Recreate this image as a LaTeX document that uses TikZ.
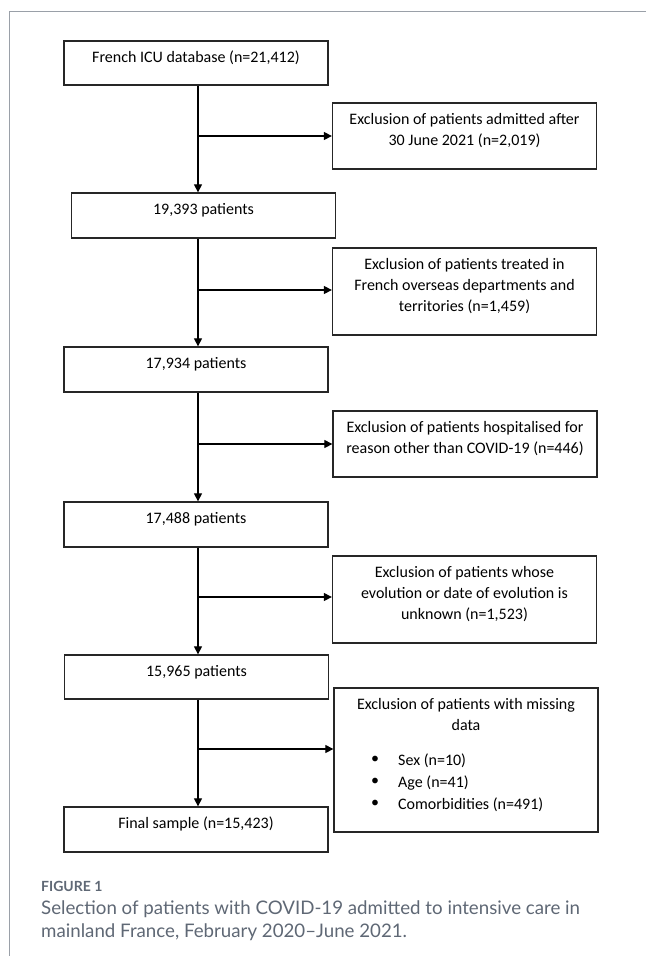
\documentclass[tikz,border=0pt]{standalone}
\usepackage{fontspec}
\setmainfont{Carlito}
\newfontfamily\capfont{Lato}
\usetikzlibrary{arrows.meta}
\definecolor{framegray}{HTML}{9AA0A8}
\definecolor{capgray}{HTML}{5F6875}
\begin{document}
\begin{tikzpicture}[x=1pt,y=-1pt,
  box/.style={draw=black!85, line width=1.3pt, minimum width=264pt, inner sep=0pt},
  txt/.style={font=\fontsize{16}{21}\selectfont, align=center, inner sep=0pt, anchor=north},
  itemtxt/.style={font=\fontsize{16}{21}\selectfont, inner sep=0pt, anchor=base west},
  bul/.style={font=\fontsize{16}{21}\selectfont, inner sep=0pt},
  arr/.style={line width=1.2pt, -{Triangle[length=8pt,width=8pt]}},
  capstyle/.style={anchor=base west, inner sep=0pt, text=capgray},
]
\useasboundingbox (0,0) rectangle (646,956);
\fill[white] (0,0) rectangle (646,956);
\draw[framegray, line width=1pt] (646,11) -- (9,11) -- (9,956);

% main column
\node[box, minimum height=44pt] (b1) at (196,63) {};
\node[box, minimum height=45pt] (b2) at (203.5,215.5) {};
\node[box, minimum height=45pt] (b3) at (196,369.5) {};
\node[box, minimum height=45pt] (b4) at (196,524.5) {};
\node[box, minimum height=44pt] (b5) at (196.5,677) {};
\node[box, minimum height=45pt] (fin) at (196,829.5) {};

\node[txt] (t1) at ([yshift=-9pt]b1.north) {\rule{0pt}{13pt}French ICU database (n=21,412)};
\node[txt] (t2) at ([yshift=-9pt]b2.north) {\rule{0pt}{13pt}19,393 patients};
\node[txt] (t3) at ([yshift=-9pt]b3.north) {\rule{0pt}{13pt}17,934 patients};
\node[txt] (t4) at ([yshift=-9pt]b4.north) {\rule{0pt}{13pt}17,488 patients};
\node[txt] (t5) at ([yshift=-9pt]b5.north) {\rule{0pt}{13pt}15,965 patients};
\node[txt] (t6) at ([yshift=-9pt]fin.north) {\rule{0pt}{13pt}Final sample (n=15,423)};

% exclusion boxes
\node[box, minimum height=66pt] (e1) at (464.5,136) {};
\node[box, minimum height=87pt] (e2) at (464.5,291.5) {};
\node[box, minimum height=66pt] (e3) at (465,444) {};
\node[box, minimum height=87pt] (e4) at (464.5,599.5) {};
\node[box, minimum height=144pt] (e5) at (466,760) {};

\node[txt] (u1) at ([yshift=-9pt]e1.north) {\rule{0pt}{13pt}Exclusion of patients admitted after\\30 June 2021 (n=2,019)};
\node[txt] (u2) at ([yshift=-9pt]e2.north) {\rule{0pt}{13pt}Exclusion of patients treated in\\French overseas departments and\\territories (n=1,459)};
\node[txt] (u3) at ([yshift=-9pt]e3.north) {\rule{0pt}{13pt}Exclusion of patients hospitalised for\\reason other than COVID-19 (n=446)};
\node[txt] (u4) at ([yshift=-9pt]e4.north) {\rule{0pt}{13pt}Exclusion of patients whose\\evolution or date of evolution is\\unknown (n=1,523)};
\node[txt] (u5) at ([yshift=-9pt]e5.north) {\rule{0pt}{13pt}Exclusion of patients with missing\\data};

\node[bul] (p1) at (375,760) {•};
\node[bul] (p2) at (375,782) {•};
\node[bul] (p3) at (375,804) {•};
\node[itemtxt] (i1) at (398,765.5) {Sex (n=10)};
\node[itemtxt] (i2) at (398,787.5) {Age (n=41)};
\node[itemtxt] (i3) at (398,809.5) {Comorbidities (n=491)};

% connectors
\coordinate (v) at (198,0);
\draw[arr] (b1.south -| v) -- (b2.north -| v);
\draw[arr] (b2.south -| v) -- (b3.north -| v);
\draw[arr] (b3.south -| v) -- (b4.north -| v);
\draw[arr] (b4.south -| v) -- (b5.north -| v);
\draw[arr] (b5.south -| v) -- (fin.north -| v);

\coordinate (c1) at (198,136);
\coordinate (c2) at (198,290);
\coordinate (c3) at (198,444);
\coordinate (c4) at (198,597);
\coordinate (c5) at (198,749);
\draw[arr] (c1) -- (c1 -| e1.west);
\draw[arr] (c2) -- (c2 -| e2.west);
\draw[arr] (c3) -- (c3 -| e3.west);
\draw[arr] (c4) -- (c4 -| e4.west);
\draw[arr] (c5) -- (c5 -| e5.west);

% caption
\node[capstyle, font=\capfont\bfseries\fontsize{14}{16}\selectfont] (fig) at (41,891) {FIGURE 1};
\node[capstyle, font=\capfont\fontsize{18.7}{22}\selectfont] (cap1) at (41,914) {Selection of patients with COVID-19 admitted to intensive care in};
\node[capstyle, font=\capfont\fontsize{18.7}{22}\selectfont] (cap2) at (41,937) {mainland France, February 2020–June 2021.};
\end{tikzpicture}
\end{document}
